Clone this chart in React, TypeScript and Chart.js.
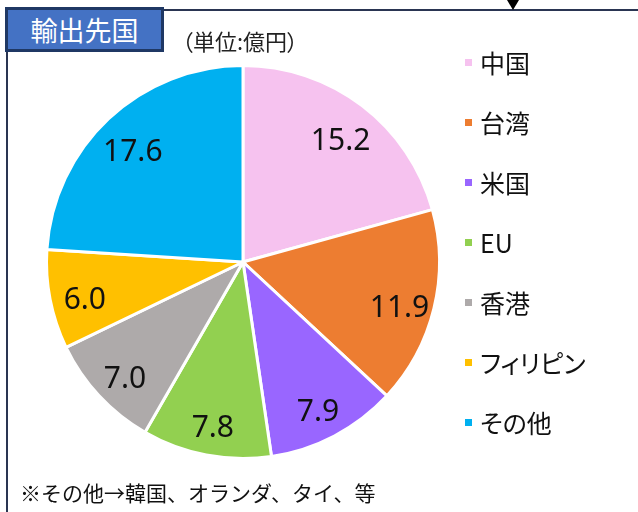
import React, { useEffect, useRef } from "react";
import { Chart, registerables } from "chart.js";

Chart.register(...registerables);

const categories = ["中国", "台湾", "米国", "EU", "香港", "フィリピン", "その他"];
const values = [15.2, 11.9, 7.9, 7.8, 7.0, 6.0, 17.6];
const colors = ["#F6C2EF", "#ED7D31", "#9966FF", "#92D050", "#AEAAAA", "#FFC000", "#00B0F0"];
const titleText = "輸出先国";
const unitText = "（単位:億円）";
const noteText = "※その他→韓国、オランダ、タイ、等";

const CJK = '"Noto Sans CJK JP", "Noto Sans", sans-serif';

const labelPlugin = {
  id: "sliceLabels",
  afterDatasetsDraw(chart: any) {
    const ctx = chart.ctx;
    const meta = chart.getDatasetMeta(0);
    ctx.save();
    ctx.font = '30px "Noto Sans", sans-serif';
    ctx.fillStyle = "#111";
    ctx.textAlign = "center";
    ctx.textBaseline = "middle";
    meta.data.forEach((arc: any, i: number) => {
      const p = arc.getProps(["x", "y", "startAngle", "endAngle", "outerRadius"], true);
      const mid = (p.startAngle + p.endAngle) / 2;
      const r = p.outerRadius * 0.82;
      const v = values[i].toFixed(1);
      ctx.fillText(v, p.x + Math.cos(mid) * r, p.y + Math.sin(mid) * r + 8);
    });
    ctx.restore();
  },
};

export default function App() {
  const ref = useRef<HTMLCanvasElement>(null);
  useEffect(() => {
    if (!ref.current) return;
    const chart = new Chart(ref.current, {
      type: "pie",
      data: {
        labels: categories,
        datasets: [
          {
            data: values,
            backgroundColor: colors,
            borderColor: "#FFFFFF",
            borderWidth: 3,
          },
        ],
      },
      options: {
        responsive: false,
        animation: false,
        layout: { padding: { left: 44, top: 64, right: 196, bottom: 52 } },
        plugins: { legend: { display: false }, tooltip: { enabled: false } },
      },
      plugins: [labelPlugin],
    });
    return () => chart.destroy();
  }, []);

  return (
    <div style={{ position: "fixed", left: 0, top: 0, width: 638, height: 512, background: "#fff", overflow: "hidden", fontFamily: CJK }}>
      <canvas ref={ref} width={638} height={512} style={{ position: "absolute", left: 0, top: 0, width: 638, height: 512 }} />
      {/* frame lines */}
      <div style={{ position: "absolute", left: 160, top: 9, width: 478, height: 2, background: "#2A3552" }} />
      <div style={{ position: "absolute", left: 6, top: 50, width: 2, height: 462, background: "#2A3552" }} />
      {/* triangle */}
      <div style={{ position: "absolute", left: 507, top: 0, width: 0, height: 0, borderLeft: "6px solid transparent", borderRight: "6px solid transparent", borderTop: "10px solid #000" }} />
      {/* title box */}
      <div style={{ position: "absolute", left: 5, top: 7, width: 159, height: 45, boxSizing: "border-box", background: "#4472C4", border: "3px solid #1F3864", color: "#fff", fontSize: 27, lineHeight: "39px", textAlign: "center" }}>{titleText}</div>
      <div style={{ position: "absolute", left: 182, top: 26, fontSize: 22, lineHeight: "28px", color: "#222", fontFeatureSettings: '"palt"' }}>{unitText}</div>
      {/* legend */}
      {categories.map((c, i) => (
        <div key={c} style={{ position: "absolute", left: 465, top: 62 + 60 * i - 16, height: 32, display: "flex", alignItems: "center" }}>
          <div style={{ width: 7, height: 7, background: colors[i], marginRight: 8 }} />
          <div style={{ fontSize: 25, lineHeight: "32px", color: "#111", fontFeatureSettings: '"palt"' }}>{c}</div>
        </div>
      ))}
      <div style={{ position: "absolute", left: 20, top: 477, fontSize: 21, lineHeight: "30px", color: "#111" }}>{noteText}</div>
    </div>
  );
}
